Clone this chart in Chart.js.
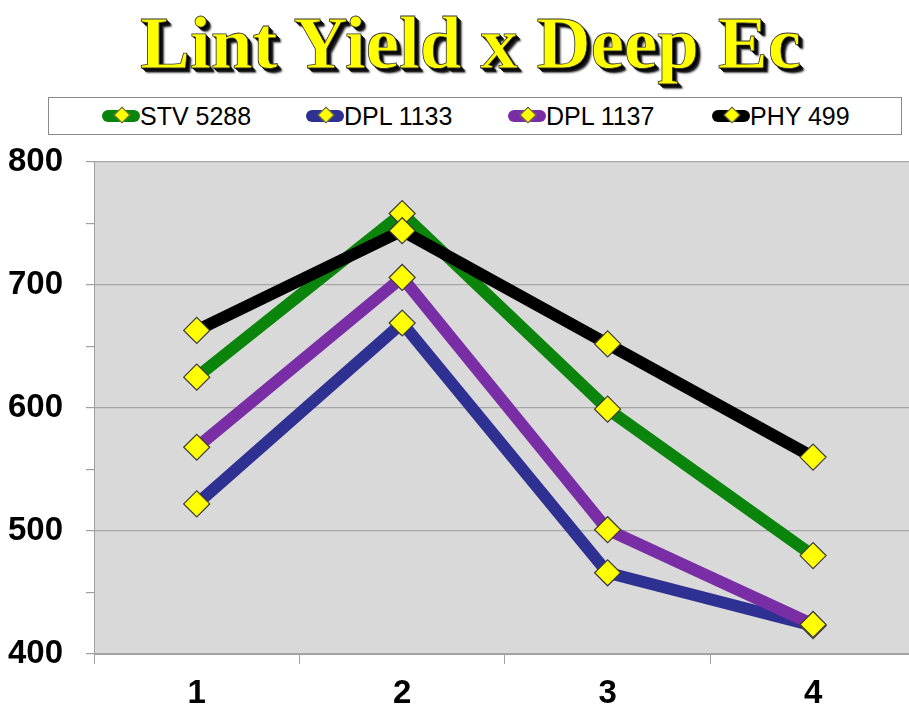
<!DOCTYPE html>
<html>
<head>
<meta charset="utf-8">
<script src="https://cdn.jsdelivr.net/npm/chart.js@4.4.1/dist/chart.umd.min.js"></script>
<style>
  html, body { margin: 0; padding: 0; background: #fff; width: 909px; height: 711px; overflow: hidden; position: relative; }
  #title { position: absolute; left: 140px; top: 5px; margin: 0; font-family: "Liberation Serif", "Times New Roman", serif; font-weight: bold; font-size: 75px; line-height: 1; color: #ffff00; white-space: nowrap; z-index: 2;
    -webkit-text-stroke: 0.8px #333;
    text-shadow: 1px 1px 0 #000, 2px 2px 0 #000, 3px 3px 0 #111, 4px 4px 0 #222, 5px 5px 2px #555; }
  #legend { position: absolute; left: 48px; top: 97px; width: 854px; height: 38px; box-sizing: border-box; border: 1px solid #8c8c8c; background: #fff; z-index: 2; }
  .item { position: absolute; top: 0; height: 36px; display: flex; align-items: center; font-family: "Liberation Sans", Arial, sans-serif; font-size: 25px; color: #000; white-space: nowrap; }
  .icon { position: relative; width: 38px; height: 12px; border-radius: 6px; margin-right: 0; }
  .dia { position: absolute; left: 14px; top: -1px; width: 10px; height: 10px; background: #ffff00; border: 1px solid #555; transform: rotate(45deg); }
  #wrap { position: absolute; left: 0; top: 119px; width: 930px; height: 592px; z-index: 1; }
</style>
</head>
<body>
<div id="title">Lint Yield x Deep Ec</div>
<div id="legend"></div>
<div id="wrap"><canvas id="c" width="930" height="592"></canvas></div>
<script>
const categories = ['1', '2', '3', '4'];
const seriesNames = ['STV 5288', 'DPL 1133', 'DPL 1137', 'PHY 499'];
const stv5288 = [625, 758, 599, 480];
const dpl1133 = [522, 669, 466, 423];
const dpl1137 = [568, 706, 501, 424];
const phy499 = [663, 744, 652, 560];
const yTickLabels = [400, 500, 600, 700, 800];

const seriesValues = [stv5288, dpl1133, dpl1137, phy499];
const colors = ['#0a840a', '#2e3192', '#7a2ea6', '#000000'];

// HTML legend
const legend = document.getElementById('legend');
const itemLefts = [102, 306, 508, 712];
seriesNames.forEach((n, i) => {
  const it = document.createElement('div');
  it.className = 'item';
  it.style.left = (itemLefts[i] - 48 - 1) + 'px';
  const ic = document.createElement('div');
  ic.className = 'icon';
  ic.style.background = colors[i];
  const d = document.createElement('div');
  d.className = 'dia';
  ic.appendChild(d);
  const t = document.createElement('span');
  t.textContent = n;
  it.appendChild(ic);
  it.appendChild(t);
  legend.appendChild(it);
});

const bgPlugin = {
  id: 'plotBg',
  beforeDraw(chart) {
    const a = chart.chartArea, ctx = chart.ctx;
    ctx.save();
    ctx.fillStyle = '#d9d9d9';
    ctx.fillRect(a.left, a.top, a.right - a.left, a.bottom - a.top);
    ctx.restore();
  }
};

const datasets = seriesNames.map((n, i) => ({
  label: n,
  data: seriesValues[i],
  borderColor: colors[i],
  backgroundColor: colors[i],
  borderWidth: 12,
  borderJoinStyle: 'miter',
  pointStyle: 'rectRot',
  pointRadius: 13,
  pointHoverRadius: 13,
  pointBackgroundColor: '#ffff00',
  pointBorderColor: '#3a3a3a',
  pointBorderWidth: 1.2,
  order: 4 - i,
  tension: 0,
  fill: false
}));

new Chart(document.getElementById('c'), {
  type: 'line',
  data: { labels: categories, datasets },
  plugins: [bgPlugin],
  options: {
    responsive: false,
    animation: false,
    layout: { padding: { top: 0, right: 12, left: 0, bottom: 0 } },
    plugins: { legend: { display: false }, title: { display: false }, tooltip: { enabled: false } },
    scales: {
      x: {
        offset: true,
        grid: { offset: true, drawOnChartArea: false, color: '#a0a0a0', tickLength: 10, lineWidth: 1 },
        border: { color: '#a0a0a0', width: 1 },
        ticks: { color: '#000', padding: 10, font: { family: '"Liberation Sans", Arial, sans-serif', size: 33, weight: 'bold' } },
        afterFit(s) { s.height = 57; }
      },
      y: {
        min: yTickLabels[0],
        max: yTickLabels[yTickLabels.length - 1],
        ticks: {
          stepSize: 50,
          color: '#000',
          padding: 23,
          font: { family: '"Liberation Sans", Arial, sans-serif', size: 33, weight: 'bold' },
          callback: (v) => (yTickLabels.includes(v) ? String(v) : '')
        },
        grid: {
          color: (ctx) => (ctx.tick && ctx.tick.value % 100 === 0 ? '#a6a6a6' : 'rgba(0,0,0,0)'),
          tickColor: '#a0a0a0',
          tickLength: 8,
          lineWidth: 1.2
        },
        border: { color: '#a0a0a0', width: 1 },
        afterFit(s) { s.width = 94; }
      }
    }
  }
});
</script>
</body>
</html>
